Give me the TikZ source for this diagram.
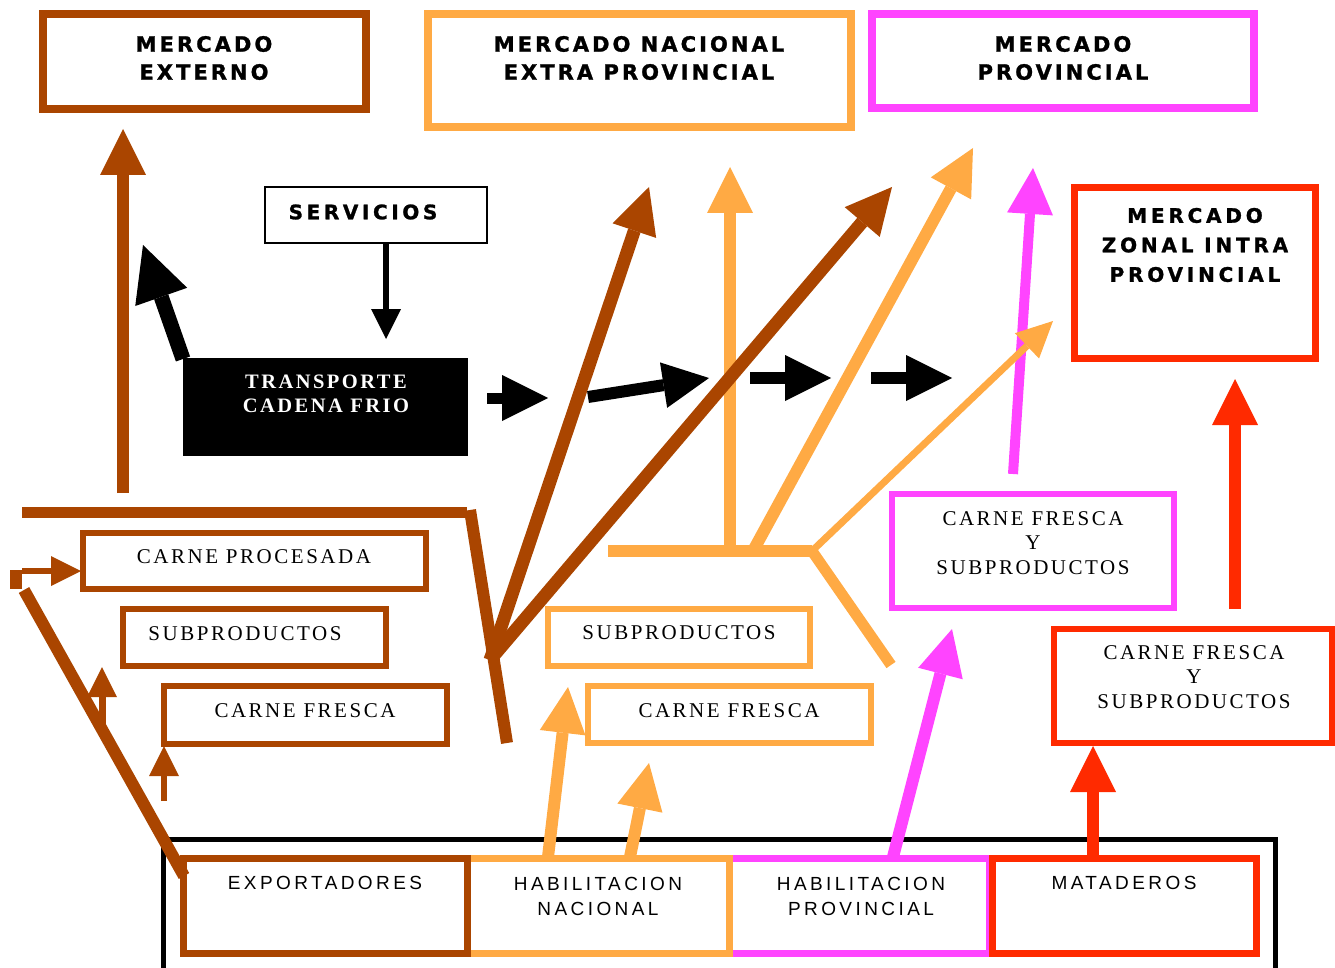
\documentclass[tikz,border=0pt]{standalone}
\usepackage{fontspec}
\usetikzlibrary{arrows.meta}
\definecolor{cbrown}{HTML}{AA4500}
\definecolor{corange}{HTML}{FFAA44}
\definecolor{cmag}{HTML}{FF44FF}
\definecolor{cred}{HTML}{FF2A00}
\newfontfamily\titlefont[LetterSpace=14.5,FakeBold=1.2]{DejaVu Sans}
\newfontfamily\titlefontB[LetterSpace=18,FakeBold=1.2]{DejaVu Sans}
\newfontfamily\titlefontC[LetterSpace=19,FakeBold=1.2]{DejaVu Sans}
\newfontfamily\serifsp[LetterSpace=12]{Liberation Serif}
\newfontfamily\sanssp[LetterSpace=18]{Liberation Sans}
\begin{document}
\begin{tikzpicture}[x=1pt,y=-1pt,
  box/.style={draw, inner sep=0pt, line width=#1},
  ttl/.style={font=\titlefont\bfseries\fontsize{21}{28}\selectfont, align=center, inner sep=0pt},
  srf/.style={font=\serifsp\fontsize{21}{24.5}\selectfont, align=center, inner sep=0pt},
  sns/.style={font=\sanssp\fontsize{19}{25}\selectfont, align=center, inner sep=0pt},
  tipL/.style={-{Triangle[length=46pt,width=46pt,line width=0pt]}},
  tipM/.style={-{Triangle[length=30pt,width=30pt,line width=0pt]}},
  tipB/.style={-{Triangle[length=55pt,width=55pt,line width=0pt]}},
  tipT/.style={-{Triangle[length=36pt,width=35pt,line width=0pt]}}
]
\useasboundingbox (0,0) rectangle (1335,968);

% bottom frame
\coordinate (frA) at (163.5,968);
\coordinate (frB) at (163.5,839.5);
\coordinate (frC) at (1275.5,839.5);
\coordinate (frD) at (1275.5,968);
\draw[line width=5pt] (frA) -- (frB) -- (frC) -- (frD);

% top boxes
\node[box=8pt, draw=cbrown, minimum width=323pt, minimum height=95pt] (mext) at (204.5,61.5) {};
\node[ttl] (mextT) at (204,58) {MERCADO\\EXTERNO};
\node[box=8pt, draw=corange, minimum width=423pt, minimum height=113pt] (mnac) at (639.5,70.5) {};
\node[ttl] (mnacT) at (639,58) {MERCADO NACIONAL\\EXTRA PROVINCIAL};
\node[box=8pt, draw=cmag, minimum width=382pt, minimum height=94pt] (mprov) at (1063,61) {};
\node[ttl] (mprovT) at (1063,58) {MERCADO\\PROVINCIAL};
\node[box=2pt, draw=black, minimum width=222pt, minimum height=56pt] (serv) at (376,215) {};
\node[ttl, font=\titlefontB\bfseries\fontsize{20}{24}\selectfont] (servT) at (363,212) {SERVICIOS};
\node[fill=black, inner sep=0pt, minimum width=285pt, minimum height=98pt] (trans) at (325.5,407) {};
\node[srf, text=white, font=\serifsp\bfseries\fontsize{20.5}{24}\selectfont] (transT) at (326,394) {TRANSPORTE\\CADENA FRIO};
\node[box=7pt, draw=cred, minimum width=241pt, minimum height=171pt] (mzon) at (1195,273) {};
\node[ttl, font=\titlefontC\bfseries\fontsize{20}{29.5}\selectfont] (mzonT) at (1195,245) {MERCADO\\ZONAL INTRA\\PROVINCIAL};

% right middle boxes
\node[box=6pt, draw=cmag, minimum width=282pt, minimum height=114pt] (cfsM) at (1033,551) {};
\node[srf] (cfsMT) at (1033,543) {CARNE FRESCA\\Y\\SUBPRODUCTOS};
\node[box=6pt, draw=cred, minimum width=278pt, minimum height=114pt] (cfsR) at (1193,686) {};
\node[srf] (cfsRT) at (1194,677) {CARNE FRESCA\\Y\\SUBPRODUCTOS};

% brown product boxes
\node[box=6pt, draw=cbrown, minimum width=343pt, minimum height=56pt] (cproc) at (254.5,561) {};
\node[srf] (cprocT) at (254,557) {CARNE PROCESADA};
\node[box=6pt, draw=cbrown, minimum width=263pt, minimum height=57pt] (subB) at (254.5,637.5) {};
\node[srf] (subBT) at (245,634) {SUBPRODUCTOS};
\node[box=6pt, draw=cbrown, minimum width=283pt, minimum height=58pt] (cfB) at (305.5,715) {};
\node[srf] (cfBT) at (305,711) {CARNE FRESCA};

% orange product boxes
\node[box=6pt, draw=corange, minimum width=262pt, minimum height=57pt] (subO) at (679,637.5) {};
\node[srf] (subOT) at (679,633) {SUBPRODUCTOS};
\node[box=6pt, draw=corange, minimum width=283pt, minimum height=57pt] (cfO) at (729.5,714.5) {};
\node[srf] (cfOT) at (729,711) {CARNE FRESCA};

% bottom boxes
\node[box=7pt, draw=cmag, minimum width=260pt, minimum height=95pt] (habP) at (859.5,906) {};
\node[box=7pt, draw=corange, minimum width=262pt, minimum height=95pt] (habN) at (598.5,906) {};
\node[box=7pt, draw=cbrown, minimum width=284pt, minimum height=95pt] (exp) at (325.5,906) {};
\node[box=7pt, draw=cred, minimum width=264pt, minimum height=95pt] (mat) at (1124.5,906) {};
\node[sns] (expT) at (325,883) {EXPORTADORES};
\node[sns] (habNT) at (598,896) {HABILITACION\\NACIONAL};
\node[sns] (habPT) at (861,896) {HABILITACION\\PROVINCIAL};
\node[sns] (matT) at (1124,883) {MATADEROS};

% coordinates
\coordinate (ohl) at (608,551);
\coordinate (ohr) at (812,551);
\coordinate (ovs) at (730,551);
\coordinate (ove) at (730,167);
\coordinate (ods) at (753,551);
\coordinate (ode) at (973,148);
\coordinate (ote) at (1053,321);
\coordinate (odd) at (891,665);
\coordinate (oh1s) at (548,857);
\coordinate (oh1e) at (568,687);
\coordinate (oh2s) at (630,857);
\coordinate (oh2e) at (649,763);
\coordinate (m1s) at (1013,474);
\coordinate (m1e) at (1033,168);
\coordinate (m2s) at (893,857);
\coordinate (m2e) at (952,629);
\coordinate (r1s) at (1235,609);
\coordinate (r1e) at (1235,379);
\coordinate (r2s) at (1093,855);
\coordinate (r2e) at (1093,746);

% magenta arrows
\draw[cmag, line width=10pt, tipL] (m1s) -- (m1e);
\draw[cmag, line width=12pt, tipL] (m2s) -- (m2e);

% orange lines and arrows
\draw[corange, line width=12pt] (ohl) -- (ohr);
\draw[corange, line width=12pt, tipL] (ovs) -- (ove);
\draw[corange, line width=12pt, tipL] (ods) -- (ode);
\draw[corange, line width=7pt, tipT] (ohr) -- (ote);
\draw[corange, line width=11pt] (ohr) -- (odd);
\draw[corange, line width=12pt, tipL] (oh1s) -- (oh1e);
\draw[corange, line width=12pt, tipL] (oh2s) -- (oh2e);

% red arrows
\draw[cred, line width=12pt, tipL] (r1s) -- (r1e);
\draw[cred, line width=12pt, tipL] (r2s) -- (r2e);

% brown lines and arrows
\coordinate (b1s) at (123,493);
\coordinate (b1e) at (123,129);
\coordinate (bhl) at (22,512.5);
\coordinate (bhr) at (467,512.5);
\coordinate (bvt) at (470,510);
\coordinate (bvb) at (507,743);
\coordinate (bj) at (490,660);
\coordinate (b2e) at (649,187);
\coordinate (b3e) at (892,187);
\coordinate (sqa) at (22,571);
\coordinate (sqb) at (81,571);
\coordinate (dgt) at (24,590);
\coordinate (dgb) at (184,876);
\coordinate (sa1s) at (102,731);
\coordinate (sa1e) at (102,667);
\coordinate (sa2s) at (164,801);
\coordinate (sa2e) at (164,746);
\draw[cbrown, line width=12pt, tipL] (b1s) -- (b1e);
\draw[cbrown, line width=11pt] (bhl) -- (bhr);
\draw[cbrown, line width=12pt] (bvt) -- (bvb);
\draw[cbrown, line width=13pt, tipL] (bj) -- (b2e);
\draw[cbrown, line width=13pt, tipL] (bj) -- (b3e);
\node[fill=cbrown, inner sep=0pt, minimum width=12pt, minimum height=19pt] (sq) at (16,579.5) {};
\draw[cbrown, line width=6pt, tipM] (sqa) -- (sqb);
\draw[cbrown, line width=12pt] (dgt) -- (dgb);
\draw[cbrown, line width=7pt, tipM] (sa1s) -- (sa1e);
\draw[cbrown, line width=6pt, tipM] (sa2s) -- (sa2e);

% black arrows
\coordinate (k0s) at (386,244);
\coordinate (k0e) at (386,339);
\coordinate (k1s) at (183,359);
\coordinate (k1e) at (143,245);
\coordinate (k2s) at (487,398);
\coordinate (k2e) at (548,398);
\coordinate (k3s) at (588,397);
\coordinate (k3e) at (709,378);
\coordinate (k4s) at (750,378);
\coordinate (k4e) at (831,378);
\coordinate (k5s) at (871,378);
\coordinate (k5e) at (952,378);
\draw[line width=6pt, tipM] (k0s) -- (k0e);
\draw[line width=15pt, tipB] (k1s) -- (k1e);
\draw[line width=11pt, tipL] (k2s) -- (k2e);
\draw[line width=12pt, tipL] (k3s) -- (k3e);
\draw[line width=12pt, tipL] (k4s) -- (k4e);
\draw[line width=12pt, tipL] (k5s) -- (k5e);
\end{tikzpicture}
\end{document}
